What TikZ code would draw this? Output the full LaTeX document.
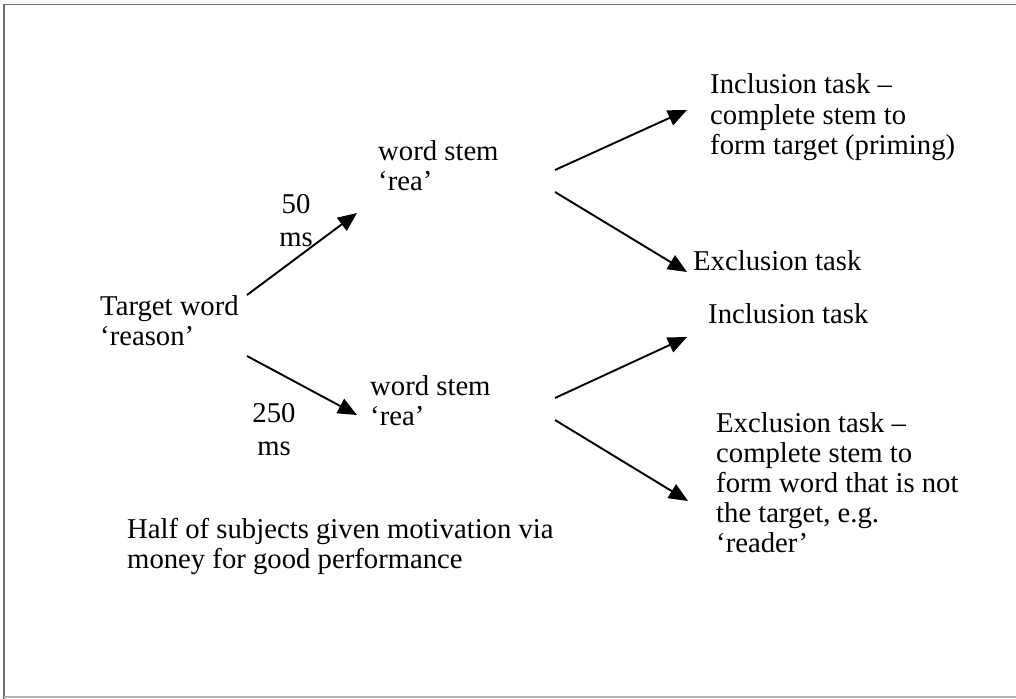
\documentclass[tikz,border=0pt]{standalone}
\usepackage{fontspec}
\setmainfont{Liberation Serif}
\usetikzlibrary{arrows.meta}
\newcommand{\mlines}[1]{\begin{tabular}[t]{@{}l@{}}#1\end{tabular}}
\newcommand{\clines}[1]{\begin{tabular}[t]{@{}c@{}}#1\end{tabular}}
\begin{document}
\begin{tikzpicture}[x=1pt,y=-1pt,
  txt/.style={anchor=base west,inner sep=0pt,font=\fontsize{28.7}{30.2}\selectfont},
  ctxt/.style={anchor=base,inner sep=0pt,font=\fontsize{28.7}{30.2}\selectfont},
  arr/.style={line width=1.9pt,-{Triangle[length=19pt,width=16pt]}}]
\useasboundingbox (0,0) rectangle (1016,698);
\fill[white] (0,0) rectangle (1016,698);
% frame
\draw[line width=1.6pt,color=black!55] (4,1016) -- (4,4.5) -- (1016,4.5);
\draw[line width=1.6pt,color=black!30] (4,697) -- (1016,697);
% texts
\node[txt] (target) at (100,315) {\mlines{Target word\\‘reason’}};
\node[txt] (stem1) at (378,160) {\mlines{word stem\\‘rea’}};
\node[txt] (stem2) at (370,395) {\mlines{word stem\\‘rea’}};
\node[ctxt] (t50) at (296,213) {\clines{50\\[3pt]ms}};
\node[ctxt] (t250) at (274,422) {\clines{250\\[3pt]ms}};
\node[txt] (inc1) at (710,94) {\mlines{Inclusion task –\\complete stem to\\form target (priming)}};
\node[txt] (exc1) at (693,270) {Exclusion task};
\node[txt] (inc2) at (708,323) {Inclusion task};
\node[txt] (exc2) at (716,432) {\mlines{Exclusion task –\\complete stem to\\form word that is not\\the target, e.g.\\‘reader’}};
\node[txt] (half) at (127,538) {\mlines{Half of subjects given motivation via\\money for good performance}};
% arrow endpoints
\coordinate (a1s) at (247,295); \coordinate (a1e) at (357,213);
\coordinate (a2s) at (247,356); \coordinate (a2e) at (357,415);
\coordinate (a3s) at (555,170); \coordinate (a3e) at (687,110);
\coordinate (a4s) at (555,192); \coordinate (a4e) at (687,272);
\coordinate (a5s) at (555,398); \coordinate (a5e) at (687,337);
\coordinate (a6s) at (555,420); \coordinate (a6e) at (688,501);
\draw[arr] (a1s) -- (a1e);
\draw[arr] (a2s) -- (a2e);
\draw[arr] (a3s) -- (a3e);
\draw[arr] (a4s) -- (a4e);
\draw[arr] (a5s) -- (a5e);
\draw[arr] (a6s) -- (a6e);
\end{tikzpicture}
\end{document}
